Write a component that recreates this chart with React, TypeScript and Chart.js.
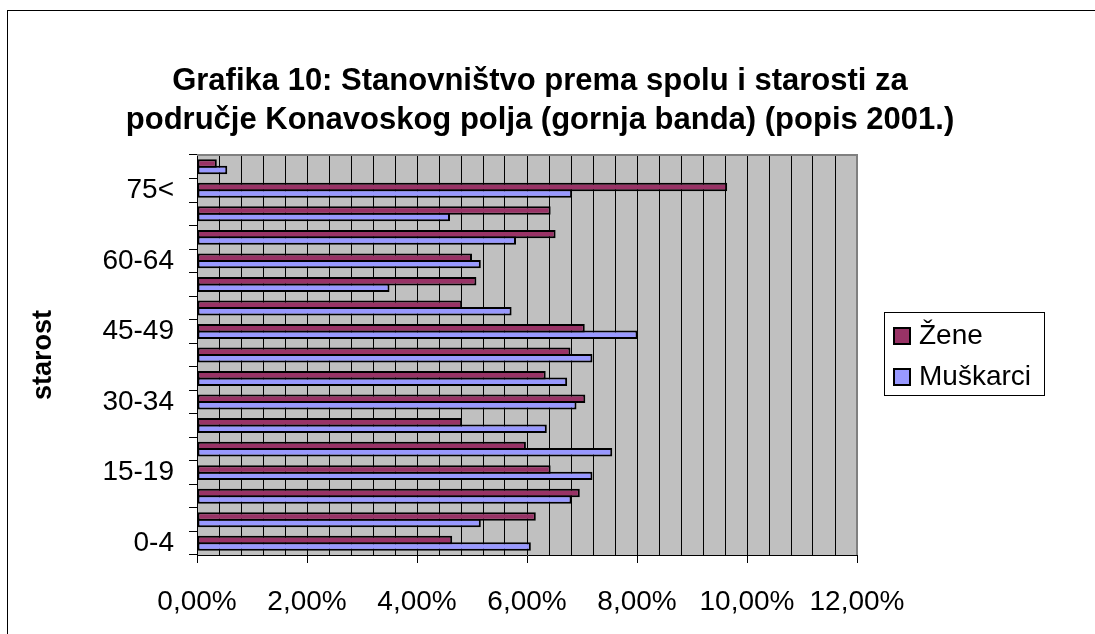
import React, { useEffect, useRef } from 'react';
import { Chart, registerables } from 'chart.js';

Chart.register(...registerables);

const ageGroups = ['0-4', '5-9', '10-14', '15-19', '20-24', '25-29', '30-34', '35-39', '40-44', '45-49', '50-54', '55-59', '60-64', '65-69', '70-74', '75<', 'nepoznato'];
const zene = [4.64, 6.16, 6.96, 6.43, 5.98, 4.82, 7.06, 6.34, 6.79, 7.05, 4.82, 5.08, 5.0, 6.52, 6.43, 9.64, 0.36];
const muskarci = [6.07, 5.16, 6.81, 7.19, 7.55, 6.36, 6.9, 6.73, 7.19, 8.01, 5.72, 3.5, 5.16, 5.8, 4.6, 6.82, 0.55];
const seriesNames = ['Žene', 'Muškarci'];
const titleLines = ['Grafika 10: Stanovništvo prema spolu i starosti za', 'područje Konavoskog polja (gornja banda) (popis 2001.)'];
const axisTitle = 'starost';
const xMin = 0;
const xMax = 12;
const xStep = 0.4;
const xLabelStep = 2;

const FONT = "'Liberation Sans', Arial, Helvetica, sans-serif";

const isMajor = (v: number) => Math.abs(v / xLabelStep - Math.round(v / xLabelStep)) < 1e-6;

export default function App() {
  const ref = useRef<HTMLCanvasElement>(null);

  useEffect(() => {
    const canvas = ref.current!;
    Chart.defaults.font.family = FONT;

    const plotFrame = {
      id: 'plotFrame',
      beforeDraw(chart: any) {
        const { ctx, chartArea: a } = chart;
        ctx.save();
        ctx.fillStyle = '#C0C0C0';
        ctx.fillRect(a.left, a.top, a.right - a.left, a.bottom - a.top);
        ctx.restore();
      },
      beforeDatasetsDraw(chart: any) {
        const { ctx, chartArea: a } = chart;
        ctx.save();
        ctx.strokeStyle = '#808080';
        ctx.lineWidth = 2;
        ctx.beginPath();
        ctx.moveTo(a.left, a.top);
        ctx.lineTo(a.right, a.top);
        ctx.lineTo(a.right, a.bottom);
        ctx.stroke();
        ctx.restore();
      },
    };

    const boxedLegend = {
      id: 'boxedLegend',
      afterDraw(chart: any) {
        const { ctx, chartArea: a } = chart;
        const left = Math.round(a.right + 27) + 0.5;
        const top = Math.round((a.top + a.bottom) / 2 - 43) + 0.5;
        const w = 160;
        const h = 83;
        ctx.save();
        ctx.fillStyle = '#FFFFFF';
        ctx.fillRect(left, top, w, h);
        ctx.strokeStyle = '#000000';
        ctx.lineWidth = 1;
        ctx.strokeRect(left, top, w, h);
        ctx.font = `28px ${FONT}`;
        ctx.textBaseline = 'middle';
        ctx.textAlign = 'left';
        chart.data.datasets.forEach((ds: any, i: number) => {
          const sx = Math.round(left + 9);
          const sy = Math.round(top + 15 + i * 41);
          ctx.fillStyle = ds.backgroundColor;
          ctx.fillRect(sx, sy, 16, 16);
          ctx.lineWidth = 2;
          ctx.strokeStyle = '#000000';
          ctx.strokeRect(sx, sy, 16, 16);
          ctx.fillStyle = '#000000';
          ctx.fillText(ds.label, sx + 25, sy + 8);
        });
        ctx.restore();
      },
    };

    const chart = new Chart(canvas, {
      type: 'bar',
      data: {
        labels: ageGroups,
        datasets: [
          {
            label: seriesNames[0],
            data: zene,
            backgroundColor: '#993366',
            borderColor: '#000000',
            borderWidth: 2,
            borderSkipped: false,
            xAxisID: 'x',
            yAxisID: 'y',
          },
          {
            label: seriesNames[1],
            data: muskarci,
            backgroundColor: '#9999FF',
            borderColor: '#000000',
            borderWidth: 2,
            borderSkipped: false,
            xAxisID: 'x',
            yAxisID: 'y',
          },
        ],
      },
      options: {
        indexAxis: 'y',
        responsive: false,
        animation: false,
        layout: { padding: 0 },
        datasets: { bar: { categoryPercentage: 0.55, barPercentage: 1.31 } },
        plugins: {
          legend: { display: false },
          tooltip: { enabled: false },
          title: {
            display: true,
            text: titleLines,
            color: '#000000',
            font: { size: 31, weight: 'bold', lineHeight: 1.258, family: FONT },
            padding: { top: 61.5, bottom: 15.5 },
          },
        },
        scales: {
          x: {
            type: 'linear',
            position: 'bottom',
            min: xMin,
            max: xMax,
            ticks: {
              stepSize: xStep,
              autoSkip: false,
              maxRotation: 0,
              minRotation: 0,
              padding: 22,
              color: '#000000',
              font: { size: 28, family: FONT },
              callback: (v: any) => (isMajor(Number(v)) ? Number(v).toFixed(2).replace('.', ',') + '%' : ''),
            },
            grid: {
              color: '#000000',
              lineWidth: 1,
              tickLength: 8,
              tickColor: (c: any) => (c.tick && isMajor(c.tick.value) ? '#000000' : 'rgba(0,0,0,0)'),
            },
            border: { display: true, color: '#000000', width: 1 },
            afterFit: (s: any) => {
              s.height = 79;
            },
          },
          y: {
            type: 'category',
            position: 'left',
            reverse: true,
            offset: true,
            ticks: {
              autoSkip: false,
              padding: 15,
              color: '#000000',
              font: { size: 28, family: FONT },
              callback: (_v: any, i: number) => (i % 3 === 0 ? ageGroups[i] : ''),
            },
            grid: { offset: true, drawOnChartArea: false, color: '#000000', tickLength: 8 },
            border: { display: true, color: '#000000', width: 1 },
            title: {
              display: true,
              text: axisTitle,
              color: '#000000',
              font: { size: 27, weight: 'bold', family: FONT },
              padding: { top: 27, bottom: 4 },
            },
            afterFit: (s: any) => {
              s.width = 197;
            },
          },
          spacer: {
            type: 'linear',
            axis: 'y',
            position: 'right',
            display: true,
            grid: { display: false },
            ticks: { display: false },
            border: { display: false },
            afterFit: (s: any) => {
              s.width = 223;
            },
          },
        },
      } as any,
      plugins: [plotFrame, boxedLegend],
    });

    return () => chart.destroy();
  }, []);

  return (
    <>
      <div
        style={{
          position: 'fixed',
          top: 10,
          left: 7,
          right: -20,
          bottom: -20,
          border: '1px solid #000000',
        }}
      />
      <canvas
        ref={ref}
        width={1080}
        height={634}
        style={{ position: 'fixed', top: 0, left: 0, width: 1080, height: 634 }}
      />
    </>
  );
}
